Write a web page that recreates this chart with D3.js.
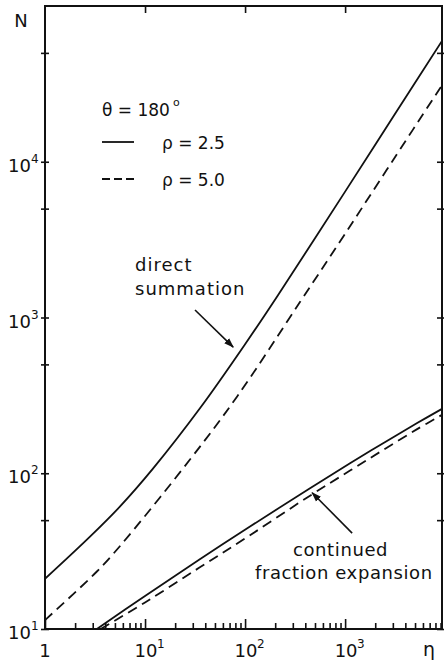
<!DOCTYPE html>
<html>
<head>
<meta charset="utf-8">
<title>N vs eta</title>
<script src="https://d3js.org/d3.v7.min.js"></script>
<style>
  * { margin: 0; padding: 0; }
  body { background: #fff; }
  svg text { font-family: "DejaVu Sans", sans-serif; fill: #111; }
</style>
</head>
<body>
<div id="chart"></div>
<script>
// values (theta = 180 deg)
const directEta25 = [1, 2.8, 5.6, 12, 36, 100, 210, 1000, 3000, 9300];
const directN25   = [21, 39, 61, 107, 265, 673, 1370, 6430, 19300, 59700];
const directEta50 = [1, 3.3, 5.6, 28, 83, 355, 1000, 3000, 9300];
const directN50   = [11.4, 23.4, 34, 122, 310, 1260, 3450, 10200, 31000];
const contEta25   = [3.3, 10, 35, 112, 434, 1120, 2400, 5250, 9300];
const contN25     = [10, 16.3, 27.9, 45.5, 79.3, 116, 156, 210, 259];
const contEta50   = [3.6, 10, 35, 112, 434, 1120, 2400, 5250, 9300];
const contN50     = [10, 14.8, 24.8, 40, 71, 104, 141, 192, 237];

const etaMajor = [1, 10, 100, 1000];
const etaLabels = ["1", "1", "2", "3"];  // exponents, first one is plain "1"
const nTicks = [10, 50, 100, 500, 1000, 5000, 10000, 50000];
const nMajor = [10, 100, 1000, 10000];
const nLabels = ["1", "2", "3", "4"];

const W = 444, H = 660;
const svg = d3.select("#chart").append("svg")
    .attr("width", W)
    .attr("height", H);

const x = d3.scaleLog().domain([1, 9300]).range([45, 442]);
const y = d3.scaleLog().domain([10, 1e5]).range([629, 6]);

// minor ticks 2..9 per decade on the eta axis
const etaMinor = [];
for (let d = 1; d < 10000; d *= 10) {
    for (let k = 2; k <= 9; k++) if (k * d < 9300) etaMinor.push(k * d);
}

svg.append("defs").append("clipPath").attr("id", "plot")
  .append("rect")
    .attr("x", x(1)).attr("y", y(1e5))
    .attr("width", x(9300) - x(1)).attr("height", y(10) - y(1e5));

// bottom: major and minor ticks pointing up
svg.append("g")
    .attr("transform", `translate(0,${y(10)})`)
    .call(d3.axisBottom(x).tickValues(etaMajor).tickSizeInner(-10).tickSizeOuter(0).tickFormat(""))
    .call(g => g.select(".domain").remove());
svg.append("g")
    .attr("transform", `translate(0,${y(10)})`)
    .call(d3.axisBottom(x).tickValues(etaMinor).tickSizeInner(-6).tickSizeOuter(0).tickFormat(""))
    .call(g => g.select(".domain").remove());

// top: decade ticks pointing down
svg.append("g")
    .attr("transform", `translate(0,${y(1e5)})`)
    .call(d3.axisTop(x).tickValues([10, 100, 1000]).tickSizeInner(-7).tickSizeOuter(0).tickFormat(""))
    .call(g => g.select(".domain").remove());

// left and right: small ticks crossing the axis
svg.append("g")
    .attr("transform", `translate(${x(1)},0)`)
    .call(d3.axisLeft(y).tickValues(nTicks).tickSizeOuter(0).tickFormat(""))
    .call(g => g.select(".domain").remove())
    .call(g => g.selectAll(".tick line").attr("x1", -4).attr("x2", 4));
svg.append("g")
    .attr("transform", `translate(${x(9300)},0)`)
    .call(d3.axisRight(y).tickValues(nTicks).tickSizeOuter(0).tickFormat(""))
    .call(g => g.select(".domain").remove())
    .call(g => g.selectAll(".tick line").attr("x1", -5).attr("x2", 2));

svg.selectAll(".tick line").attr("stroke", "#111").attr("stroke-width", 1.6);

// frame
svg.append("rect")
    .attr("x", x(1)).attr("y", y(1e5))
    .attr("width", x(9300) - x(1)).attr("height", y(10) - y(1e5))
    .attr("fill", "none").attr("stroke", "#111").attr("stroke-width", 2);

// tick labels
const yl = svg.append("g");
nMajor.forEach((v, i) => {
    yl.append("text").attr("x", 31).attr("y", y(v) + 10)
        .attr("text-anchor", "end").attr("font-size", 18).text("10");
    yl.append("text").attr("x", 31).attr("y", y(v) + 1)
        .attr("font-size", 12).text(nLabels[i]);
});
const xl = svg.append("g");
etaMajor.forEach((v, i) => {
    if (i === 0) {
        xl.append("text").attr("x", x(v)).attr("y", 657)
            .attr("text-anchor", "middle").attr("font-size", 18).text("1");
        return;
    }
    xl.append("text").attr("x", x(v) + 1).attr("y", 657)
        .attr("text-anchor", "middle").attr("font-size", 18).text("10");
    xl.append("text").attr("x", x(v) + 12).attr("y", 648)
        .attr("font-size", 12).text(etaLabels[i]);
});

svg.append("text").attr("x", 21).attr("y", 27)
    .attr("text-anchor", "middle").attr("font-size", 18).text("N");
svg.append("text").attr("x", 429).attr("y", 656)
    .attr("text-anchor", "middle").attr("font-size", 19).text("η");

// curves
const line = d3.line()
    .x(d => x(d[0]))
    .y(d => y(d[1]))
    .curve(d3.curveCatmullRom.alpha(0.5));

const series = [
    {eta: directEta25, n: directN25, dash: null},
    {eta: directEta50, n: directN50, dash: "10,6"},
    {eta: contEta25, n: contN25, dash: null},
    {eta: contEta50, n: contN50, dash: "10,6"}
];

const plot = svg.append("g").attr("clip-path", "url(#plot)");
series.forEach(s => {
    plot.append("path")
        .datum(d3.zip(s.eta, s.n))
        .attr("d", line)
        .attr("fill", "none")
        .attr("stroke", "#111")
        .attr("stroke-width", 1.8)
        .attr("stroke-dasharray", s.dash);
});

// legend
svg.append("text").attr("x", 102).attr("y", 116).attr("font-size", 17).text("θ = 180");
svg.append("text").attr("x", 173).attr("y", 106).attr("font-size", 11).text("o");
svg.append("line").attr("x1", 102).attr("x2", 134).attr("y1", 142).attr("y2", 142)
    .attr("stroke", "#111").attr("stroke-width", 1.8);
svg.append("text").attr("x", 162).attr("y", 149).attr("font-size", 17).text("ρ = 2.5");
svg.append("line").attr("x1", 102).attr("x2", 134).attr("y1", 179).attr("y2", 179)
    .attr("stroke", "#111").attr("stroke-width", 1.8).attr("stroke-dasharray", "8,4");
svg.append("text").attr("x", 162).attr("y", 186).attr("font-size", 17).text("ρ = 5.0");

// annotations
svg.select("defs").append("marker")
    .attr("id", "head")
    .attr("viewBox", "0 0 10 10")
    .attr("refX", 9).attr("refY", 5)
    .attr("markerWidth", 10).attr("markerHeight", 10)
    .attr("markerUnits", "userSpaceOnUse")
    .attr("orient", "auto")
  .append("path").attr("d", "M0,1.5L10,5L0,8.5Z").attr("fill", "#111");

const arrows = [
    {from: [31.6, 1117], to: [76, 646]},
    {from: [1175, 41.3], to: [468, 75]}
];
arrows.forEach(a => {
    svg.append("line")
        .attr("x1", x(a.from[0])).attr("y1", y(a.from[1]))
        .attr("x2", x(a.to[0])).attr("y2", y(a.to[1]))
        .attr("stroke", "#111").attr("stroke-width", 1.6)
        .attr("marker-end", "url(#head)");
});

svg.append("text").attr("x", 135).attr("y", 271).attr("font-size", 18)
    .attr("letter-spacing", 1).text("direct");
svg.append("text").attr("x", 135).attr("y", 295).attr("font-size", 18)
    .attr("letter-spacing", 1).text("summation");
svg.append("text").attr("x", 293).attr("y", 556).attr("font-size", 18)
    .attr("letter-spacing", 0.6).text("continued");
svg.append("text").attr("x", 255).attr("y", 579).attr("font-size", 18)
    .attr("letter-spacing", 0.6).text("fraction expansion");
</script>
</body>
</html>
